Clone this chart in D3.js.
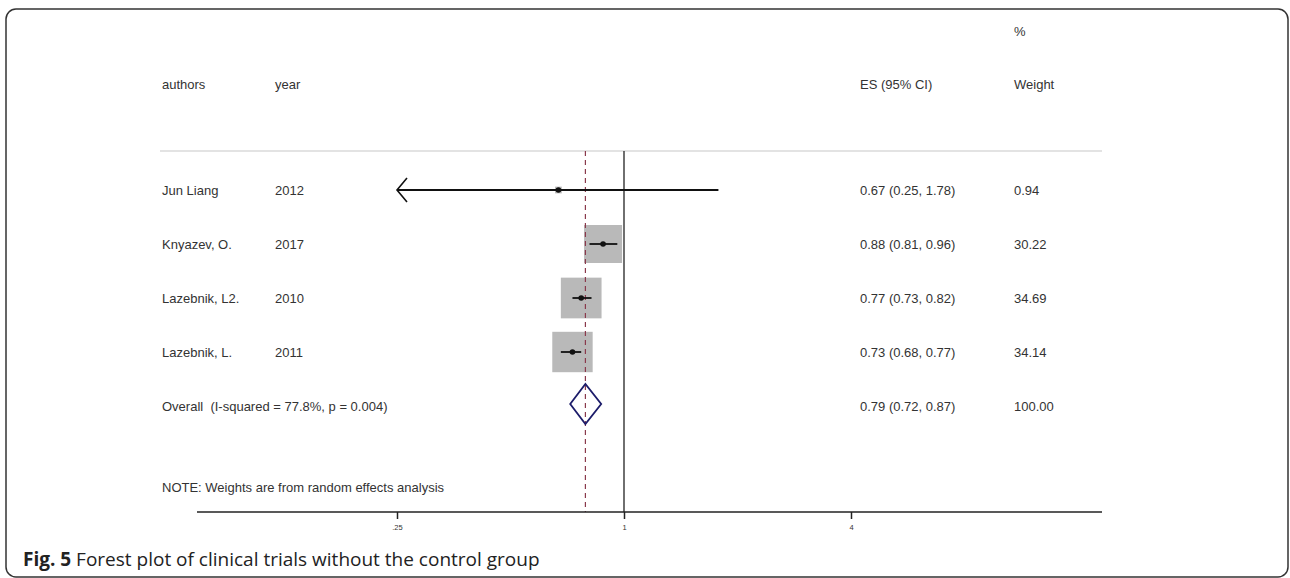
<!DOCTYPE html>
<html>
<head>
<meta charset="utf-8">
<script src="https://cdn.jsdelivr.net/npm/d3@7/dist/d3.min.js"></script>
<style>
  html, body { margin: 0; padding: 0; background: #fff; }
  svg { display: block; }
  .t { font-family: "Liberation Sans", Arial, sans-serif; font-size: 13px; fill: #333; white-space: pre; }
  .tick-lbl { font-family: "Liberation Sans", Arial, sans-serif; font-size: 7.5px; fill: #333; }
  .cap { font-family: "Open Sans", sans-serif; font-size: 19px; fill: #222; }
</style>
</head>
<body>
<svg id="chart" width="1290" height="578"></svg>
<script>
// Study-level data
const authors = ["Jun Liang", "Knyazev, O.", "Lazebnik, L2.", "Lazebnik, L."];
const years = ["2012", "2017", "2010", "2011"];
const es = [0.67, 0.88, 0.77, 0.73];
const lower = [0.25, 0.81, 0.73, 0.68];
const upper = [1.78, 0.96, 0.82, 0.77];
const weights = [0.94, 30.22, 34.69, 34.14];

// Pooled estimate
const overallLabel = "Overall  (I-squared = 77.8%, p = 0.004)";
const overallES = 0.79, overallLo = 0.72, overallHi = 0.87, overallW = 100.00;

const tickValues = [0.25, 1, 4];
const tickLabels = [".25", "1", "4"];

const svg = d3.select("#chart");

// Figure frame
svg.append("rect")
  .attr("x", 6).attr("y", 9).attr("width", 1282).attr("height", 568)
  .attr("rx", 10).attr("ry", 10)
  .attr("fill", "none").attr("stroke", "#333").attr("stroke-width", 1.5);

// Log2 effect-size scale
const x = d3.scaleLog().base(2).domain([0.25, 4]).range([397, 851]);

const rowY = d3.scalePoint()
  .domain(d3.range(authors.length + 1))
  .range([190, 406]);

const plotTop = 151, axisY = 512;

// Header
const fmt = d3.format(".2f");
svg.append("text").attr("class", "t").attr("x", 1014).attr("y", 36).text("%");
svg.append("text").attr("class", "t").attr("x", 162).attr("y", 89).text("authors");
svg.append("text").attr("class", "t").attr("x", 275).attr("y", 89).text("year");
svg.append("text").attr("class", "t").attr("x", 860).attr("y", 89).text("ES (95% CI)");
svg.append("text").attr("class", "t").attr("x", 1014).attr("y", 89).text("Weight");

// Header separator
svg.append("line")
  .attr("x1", 160).attr("x2", 1102).attr("y1", plotTop).attr("y2", plotTop)
  .attr("stroke", "#c8c8c8").attr("stroke-width", 1.2);

// Null line at 1
svg.append("line")
  .attr("x1", x(1)).attr("x2", x(1)).attr("y1", plotTop).attr("y2", axisY)
  .attr("stroke", "#222").attr("stroke-width", 1.3);

// Weighted boxes (area proportional to weight)
const side = d3.scaleSqrt().domain([0, 30.22]).range([0, 38]);
svg.append("g").selectAll("rect")
  .data(authors.map((a, i) => i))
  .join("rect")
  .attr("x", i => x(es[i]) - side(weights[i]) / 2)
  .attr("y", i => rowY(i) - side(weights[i]) / 2)
  .attr("width", i => side(weights[i]))
  .attr("height", i => side(weights[i]))
  .attr("fill", "#b9b9b9");

// Pooled estimate reference line
svg.append("line")
  .attr("x1", x(overallES)).attr("x2", x(overallES)).attr("y1", plotTop).attr("y2", axisY)
  .attr("stroke", "#8a3a4c").attr("stroke-width", 1.2).attr("stroke-dasharray", "5,4");

// Confidence intervals
const axisMin = 0.25;
svg.append("g").selectAll("line")
  .data(authors.map((a, i) => i))
  .join("line")
  .attr("x1", i => x(Math.max(lower[i], axisMin)))
  .attr("x2", i => x(upper[i]))
  .attr("y1", i => rowY(i)).attr("y2", i => rowY(i))
  .attr("stroke", "#111").attr("stroke-width", 1.8);

// Arrow where the interval reaches the axis limit
authors.forEach((a, i) => {
  if (lower[i] <= axisMin) {
    const ax = x(axisMin), ay = rowY(i);
    svg.append("path")
      .attr("d", `M${ax + 10},${ay - 12} L${ax},${ay} L${ax + 10},${ay + 12}`)
      .attr("fill", "none").attr("stroke", "#111").attr("stroke-width", 1.6);
  }
});

// Point estimates
svg.append("g").selectAll("circle")
  .data(authors.map((a, i) => i))
  .join("circle")
  .attr("cx", i => x(es[i])).attr("cy", i => rowY(i)).attr("r", 2.8)
  .attr("fill", "#111");

// Pooled diamond
const oy = rowY(authors.length) - 2;
svg.append("path")
  .attr("d", `M${x(overallLo)},${oy} L${x(overallES)},${oy - 20} L${x(overallHi)},${oy} L${x(overallES)},${oy + 20} Z`)
  .attr("fill", "none").attr("stroke", "#1c1c6a").attr("stroke-width", 1.8);

// Row labels
authors.forEach((a, i) => {
  const y = rowY(i) + 5;
  svg.append("text").attr("class", "t").attr("x", 162).attr("y", y).text(a);
  svg.append("text").attr("class", "t").attr("x", 275).attr("y", y).text(years[i]);
  svg.append("text").attr("class", "t").attr("x", 860).attr("y", y)
    .text(`${fmt(es[i])} (${fmt(lower[i])}, ${fmt(upper[i])})`);
  svg.append("text").attr("class", "t").attr("x", 1014).attr("y", y).text(fmt(weights[i]));
});
{
  const y = rowY(authors.length) + 5;
  svg.append("text").attr("class", "t").attr("x", 162).attr("y", y).text(overallLabel);
  svg.append("text").attr("class", "t").attr("x", 860).attr("y", y)
    .text(`${fmt(overallES)} (${fmt(overallLo)}, ${fmt(overallHi)})`);
  svg.append("text").attr("class", "t").attr("x", 1014).attr("y", y).text(fmt(overallW));
}

svg.append("text").attr("class", "t").attr("x", 162).attr("y", 492)
  .text("NOTE: Weights are from random effects analysis");

// X axis
const axisG = svg.append("g").attr("transform", `translate(0,${axisY})`);
axisG.append("line").attr("x1", 197).attr("x2", 1102).attr("y1", 0).attr("y2", 0)
  .attr("stroke", "#222").attr("stroke-width", 1.5);
const axis = d3.axisBottom(x).tickValues(tickValues)
  .tickFormat((d, i) => tickLabels[i]).tickSize(7).tickPadding(6);
axisG.call(axis);
axisG.select(".domain").remove();
axisG.selectAll(".tick line").attr("stroke", "#222").attr("stroke-width", 1.5);
axisG.selectAll(".tick text").attr("class", "tick-lbl").attr("font-size", null).attr("font-family", null).attr("fill", null);

// Caption
const cap = svg.append("text").attr("class", "cap").attr("x", 23).attr("y", 566);
cap.append("tspan").attr("font-weight", "bold").text("Fig. 5");
cap.append("tspan").text(" Forest plot of clinical trials without the control group");
</script>
</body>
</html>
